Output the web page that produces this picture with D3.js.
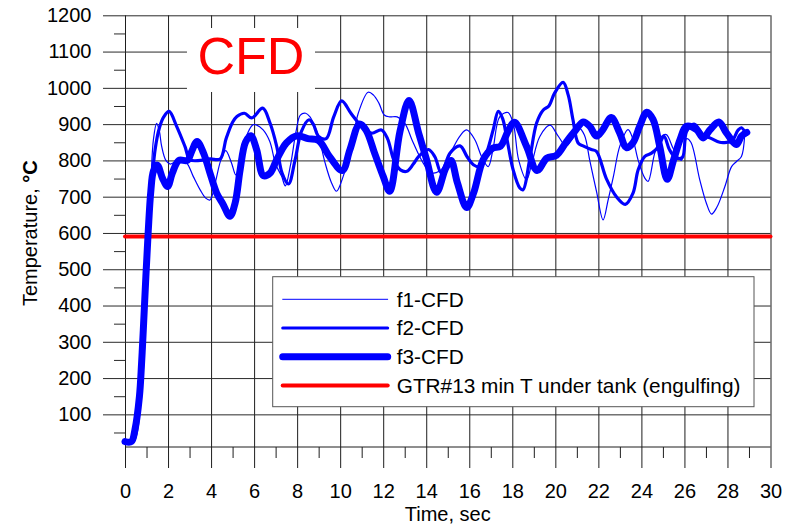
<!DOCTYPE html>
<html>
<head>
<meta charset="utf-8">
<script src="https://cdn.jsdelivr.net/npm/d3@7"></script>
<style>
  html, body { margin: 0; padding: 0; background: #fff; }
  svg { display: block; font-family: Arial, "Liberation Sans", sans-serif; }
</style>
</head>
<body>
<svg id="chart" width="790" height="525"></svg>
<script>
// Temperature histories (time in s, temperature in °C)
const f1Time = [0, 0.3, 0.62, 0.77, 0.88, 1.08, 1.2, 1.32, 1.47, 1.6, 1.7, 1.9, 2.1, 2.5, 2.86, 3.17, 3.5, 3.75, 3.95, 4.2, 4.45, 4.68, 4.95, 5.15, 5.3, 5.6, 5.95, 6.1, 6.42, 6.73, 7.0, 7.28, 7.45, 7.7, 7.95, 8.15, 8.4, 8.6, 8.75, 9.0, 9.3, 9.6, 9.83, 10.14, 10.53, 10.84, 11.3, 11.55, 11.8, 12.05, 12.3, 12.65, 13.0, 13.35, 13.7, 14.0, 14.3, 14.6, 14.9, 15.25, 15.6, 15.88, 16.26, 16.57, 16.88, 17.1, 17.42, 17.8, 18.05, 18.3, 18.66, 18.9, 19.28, 19.75, 20.1, 20.5, 20.8, 21.1, 21.35, 21.6, 21.91, 22.22, 22.45, 22.7, 23.0, 23.38, 23.6, 23.85, 24.16, 24.31, 24.62, 24.93, 25.16, 25.5, 25.86, 26.1, 26.3, 26.71, 27.02, 27.26, 27.5, 27.88, 28.19, 28.42, 28.65, 28.8];
const f1Temp = [25, 25, 110, 210, 340, 610, 740, 857, 902, 880, 840, 800, 790, 800, 793, 756, 718, 696, 691, 740, 800, 827, 793, 760, 775, 860, 898, 898, 884, 852, 790, 756, 730, 790, 880, 925, 930, 920, 903, 866, 793, 738, 715, 756, 839, 930, 988, 980, 958, 925, 920, 920, 903, 855, 810, 780, 765, 770, 790, 835, 870, 884, 857, 811, 783, 830, 921, 932, 900, 800, 747, 790, 866, 897, 870, 840, 860, 889, 870, 800, 715, 636, 690, 756, 840, 885, 860, 800, 751, 742, 820, 866, 871, 830, 800, 860, 850, 747, 682, 652, 670, 728, 783, 797, 811, 870];

const f2Time = [0, 0.35, 0.7, 1.0, 1.2, 1.4, 1.6, 1.8, 2.05, 2.4, 2.79, 3.02, 3.5, 3.95, 4.42, 4.7, 5.0, 5.2, 5.55, 5.89, 6.4, 6.74, 7.05, 7.3, 7.6, 7.9, 8.2, 8.55, 8.75, 9.0, 9.35, 9.7, 10.07, 10.5, 11.0, 11.46, 11.92, 12.2, 12.5, 12.8, 13.1, 13.4, 13.65, 14.1, 14.4, 14.7, 15.1, 15.57, 15.9, 16.19, 16.5, 16.8, 17.11, 17.35, 17.55, 17.73, 18.04, 18.35, 18.5, 18.8, 19.13, 19.44, 19.7, 19.97, 20.36, 20.6, 20.82, 21.06, 21.29, 21.67, 21.91, 22.37, 22.84, 23.25, 23.61, 23.85, 24.16, 24.47, 24.75, 25.05, 25.3, 25.6, 25.9, 26.1, 26.45, 26.87, 27.26, 27.64, 28.0, 28.2, 28.5, 28.65, 28.88];
const f2Temp = [25, 25, 140, 470, 700, 830, 890, 920, 935, 894, 838, 802, 800, 804, 804, 860, 905, 921, 930, 917, 944, 903, 839, 765, 735, 800, 880, 912, 900, 866, 860, 920, 964, 930, 894, 875, 884, 860, 800, 774, 770, 790, 811, 830, 810, 765, 820, 840, 810, 788, 783, 820, 884, 935, 915, 866, 774, 724, 719, 800, 903, 939, 950, 986, 1015, 980, 912, 848, 840, 830, 825, 750, 700, 679, 710, 774, 811, 820, 835, 866, 830, 807, 808, 880, 900, 871, 860, 850, 850, 852, 884, 890, 871];

const f3Time = [0, 0.3, 0.46, 0.67, 0.77, 0.85, 0.97, 1.08, 1.2, 1.32, 1.5, 1.75, 1.98, 2.2, 2.5, 2.9, 3.1, 3.35, 3.65, 3.95, 4.26, 4.55, 4.88, 5.12, 5.35, 5.6, 5.85, 6.12, 6.43, 6.74, 7.05, 7.5, 8.0, 8.5, 9.0, 9.5, 10.1, 10.45, 10.9, 11.2, 11.6, 12.0, 12.3, 12.78, 13.2, 13.65, 14.0, 14.48, 14.9, 15.15, 15.45, 15.88, 16.2, 16.65, 17.1, 17.45, 17.8, 18.1, 18.66, 19.15, 19.6, 20.05, 20.5, 20.9, 21.3, 21.6, 21.91, 22.2, 22.6, 22.99, 23.3, 23.6, 23.92, 24.25, 24.54, 24.85, 25.2, 25.5, 25.8, 26.09, 26.56, 26.87, 27.2, 27.6, 27.95, 28.42, 28.65, 28.9];
const f3Temp = [25, 25, 57, 149, 241, 332, 480, 605, 715, 770, 787, 750, 728, 765, 800, 800, 825, 852, 820, 765, 710, 680, 646, 683, 774, 850, 868, 829, 758, 765, 802, 848, 868, 860, 855, 811, 772, 829, 900, 884, 820, 756, 715, 880, 965, 875, 805, 712, 778, 800, 738, 670, 710, 802, 834, 839, 880, 905, 839, 772, 806, 814, 850, 880, 906, 894, 867, 884, 918, 876, 835, 848, 894, 933, 913, 839, 748, 802, 858, 894, 885, 862, 885, 906, 876, 844, 867, 877];

// GTR#13 reference level
const gtrTemp = 590;
const gtrSpan = [0, 30];

const seriesNames = ["f1-CFD", "f2-CFD", "f3-CFD", "GTR#13 min T under tank (engulfing)"];
const xMajorTicks = d3.range(0, 31, 2);
const xMinorTicks = d3.range(1, 30, 2);
const yMajorTicks = d3.range(100, 1201, 100);
const yMinorTicks = d3.range(50, 1200, 100);

const svg = d3.select("#chart");
const plotLeft = 125, plotRight = 770.5, plotTop = 15.3, plotBottom = 447;

const x = d3.scaleLinear().domain([0, 30]).range([plotLeft, plotRight]);
const y = d3.scaleLinear().domain([10, 1200]).range([plotBottom, plotTop]);

const gridColor = "#1e1e1e";
function styleAxis(g, color) {
  g.select(".domain").remove();
  g.selectAll(".tick line").attr("stroke", color).attr("stroke-width", 1);
  g.selectAll("text").attr("fill", "#000").style("font-size", "20px")
    .style("font-family", "Arial, 'Liberation Sans', sans-serif");
}

// vertical grid
svg.append("g").attr("transform", `translate(0,${plotBottom})`)
  .call(d3.axisTop(x).tickValues(xMajorTicks).tickSize(plotBottom - plotTop).tickFormat(""))
  .call(g => styleAxis(g, gridColor));
// horizontal grid
svg.append("g").attr("transform", `translate(${plotLeft},0)`)
  .call(d3.axisRight(y).tickValues(yMajorTicks).tickSize(plotRight - plotLeft).tickFormat(""))
  .call(g => styleAxis(g, "#2a2a2a"));

// x axis with labels
svg.append("g").attr("transform", `translate(0,${plotBottom})`)
  .call(d3.axisBottom(x).tickValues(xMajorTicks).tickSize(21).tickPadding(15.8).tickFormat(d3.format("d")))
  .call(g => styleAxis(g, gridColor));
svg.append("g").attr("transform", `translate(0,${plotBottom})`)
  .call(d3.axisBottom(x).tickValues(xMinorTicks).tickSize(11).tickFormat(""))
  .call(g => styleAxis(g, gridColor));
svg.append("line")
  .attr("x1", x(0)).attr("x2", x(30)).attr("y1", y(10)).attr("y2", y(10))
  .attr("stroke", gridColor).attr("stroke-width", 1);

// y axis with labels
svg.append("g").attr("transform", `translate(${plotLeft},0)`)
  .call(d3.axisLeft(y).tickValues(yMajorTicks).tickSize(22).tickPadding(11.5).tickFormat(d3.format("d")))
  .call(g => styleAxis(g, "#2a2a2a"));
svg.append("g").attr("transform", `translate(${plotLeft},0)`)
  .call(d3.axisLeft(y).tickValues(yMinorTicks).tickSize(11).tickFormat(""))
  .call(g => styleAxis(g, "#2a2a2a"));

// axis titles
svg.append("text")
  .attr("x", (plotLeft + plotRight) / 2).attr("y", 521)
  .attr("text-anchor", "middle").style("font-size", "20px")
  .text("Time, sec");
const yTitle = svg.append("text")
  .attr("transform", `translate(37,${(plotTop + plotBottom) / 2 + 2}) rotate(-90)`)
  .attr("text-anchor", "middle").style("font-size", "20px");
yTitle.append("tspan").text("Temperature, ");
yTitle.append("tspan").attr("font-weight", "bold").text("°C");

// "CFD" tag box
svg.append("rect")
  .attr("x", x(2.88)).attr("y", y(1165))
  .attr("width", x(8.83) - x(2.88)).attr("height", y(988.6) - y(1165))
  .attr("fill", "#fff");
svg.append("text")
  .attr("x", x(5.85)).attr("y", y(1038))
  .attr("text-anchor", "middle").attr("fill", "#ff0000")
  .style("font-size", "52px")
  .text("CFD");

// series
const line = d3.line()
  .x(d => x(d[0])).y(d => y(d[1]))
  .curve(d3.curveCatmullRom.alpha(0.5));

const zip = (a, b) => a.map((t, i) => [t, b[i]]);

svg.append("path")
  .datum(zip(gtrSpan, [gtrTemp, gtrTemp]))
  .attr("d", d3.line().x(d => x(d[0])).y(d => y(d[1])))
  .attr("fill", "none").attr("stroke", "#ff0000").attr("stroke-width", 4)
  .attr("stroke-linecap", "round");

const blueSeries = [
  { data: zip(f1Time, f1Temp), width: 1.2 },
  { data: zip(f2Time, f2Temp), width: 3.2 },
  { data: zip(f3Time, f3Temp), width: 7 }
];
blueSeries.forEach(s => {
  svg.append("path")
    .datum(s.data)
    .attr("d", line)
    .attr("fill", "none").attr("stroke", "#0000ff")
    .attr("stroke-width", s.width)
    .attr("stroke-linecap", "round").attr("stroke-linejoin", "round");
});

// legend
const legend = svg.append("g").attr("transform", "translate(272.7,276.7)");
legend.append("rect")
  .attr("width", 481.3).attr("height", 130)
  .attr("fill", "#fff").attr("stroke", "#555").attr("stroke-width", 1);
const legendStyles = [
  { color: "#0000ff", width: 1 },
  { color: "#0000ff", width: 3 },
  { color: "#0000ff", width: 7 },
  { color: "#ff0000", width: 4 }
];
seriesNames.forEach((name, i) => {
  const cy = 22.6 + i * 28.7;
  legend.append("line")
    .attr("x1", 10).attr("x2", 115).attr("y1", cy).attr("y2", cy)
    .attr("stroke", legendStyles[i].color).attr("stroke-width", legendStyles[i].width)
    .attr("stroke-linecap", "round");
  legend.append("text")
    .attr("x", 124).attr("y", cy + 7.3)
    .style("font-size", "20.8px")
    .text(name);
});
</script>
</body>
</html>
